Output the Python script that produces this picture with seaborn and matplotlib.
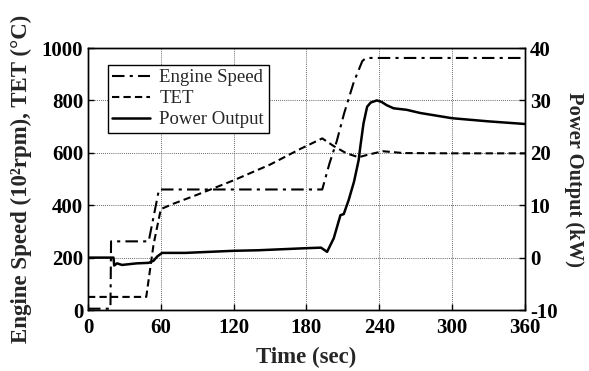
import matplotlib
matplotlib.use("Agg")
import matplotlib.pyplot as plt
import seaborn as sns
import pandas as pd

# Engine speed (10^2 rpm)
speed_t = [0, 18.5, 19, 50, 58.5, 193, 199, 205, 211, 219, 226, 229, 360]
speed_v = [5, 5, 262, 262, 460, 460, 560, 645, 750, 870, 950, 962, 962]

# TET (degC)
tet_t = [0, 48, 54, 60, 70, 90, 120, 150, 175, 193, 203, 213, 223, 230, 243, 260, 300, 360]
tet_v = [50, 50, 250, 385, 405, 440, 495, 555, 615, 655, 624, 598, 583, 592, 606, 599, 598, 598]

# Power output (kW)
pow_t = [0, 21, 21.6, 24, 28, 40, 50, 54, 57, 61, 80, 100, 120, 140, 160, 180, 192,
         197, 202.5, 208, 210.7, 214.8, 219.2, 223, 224.4, 227, 230, 233, 238,
         242, 246, 251.7, 262.7, 273.7, 300, 330, 360]
pow_v = [0, 0, -1.5, -1.1, -1.4, -1.1, -1.0, -0.6, 0.2, 0.9, 0.9, 1.1, 1.3, 1.4, 1.6, 1.8, 1.9,
         1.1, 3.7, 8.1, 8.3, 11.0, 14.5, 18.6, 21.2, 25.6, 28.8, 29.6, 30.0,
         29.7, 29.1, 28.5, 28.2, 27.6, 26.6, 26.0, 25.5]

sns.set_style("ticks")
plt.rcParams['font.family'] = ['Liberation Serif', 'DejaVu Serif']
plt.rcParams['xtick.direction'] = 'in'
plt.rcParams['ytick.direction'] = 'in'
plt.rcParams['axes.unicode_minus'] = False

fig = plt.figure(figsize=(5.89, 3.71), dpi=100)
ax = fig.add_axes([0.1494, 0.1644, 0.7418, 0.7062])
ax2 = ax.twinx()

sns.lineplot(x=speed_t, y=speed_v, ax=ax, color='black', lw=1.5, linestyle=(0, (6, 2.5, 1.5, 2.5)),
             label='Engine Speed', legend=False)
sns.lineplot(x=tet_t, y=tet_v, ax=ax, color='black', lw=1.5, linestyle=(0, (3.5, 2)),
             label='TET', legend=False)
sns.lineplot(x=pow_t, y=pow_v, ax=ax2, color='black', lw=1.8, linestyle='-',
             label='Power Output', legend=False)

ax.set_xlim(0, 360)
ax.set_ylim(0, 1000)
ax2.set_ylim(-10, 40)
ax.set_xticks(range(0, 361, 60))
ax.set_yticks(range(0, 1001, 200))
ax2.set_yticks(range(-10, 41, 10))

ax.grid(True, color='#333333', linestyle=(0, (1, 1.5)), linewidth=0.6)
for a in (ax, ax2):
    for s in a.spines.values():
        s.set_linewidth(1.0)
        s.set_color('black')
    a.tick_params(labelsize=15, width=1, length=4, colors='black')
    for lab in a.get_xticklabels() + a.get_yticklabels():
        lab.set_fontweight('bold')
ax.tick_params(axis='x', pad=6)

ax.set_xlabel('Time (sec)', fontsize=16.5, fontweight='bold', labelpad=6)
ax.set_ylabel('Engine Speed (10²rpm), TET (°C)', fontsize=16.5, fontweight='bold', labelpad=7)
ax2.set_ylabel('Power Output (kW)', fontsize=14.8, fontweight='bold', rotation=270, labelpad=19)

h1, l1 = ax.get_legend_handles_labels()
h2, l2 = ax2.get_legend_handles_labels()
leg = ax2.legend(h1 + h2, l1 + l2, loc='upper left', bbox_to_anchor=(0.045, 0.937),
                 fontsize=13.5, frameon=True, fancybox=False, framealpha=1,
                 edgecolor='black', handlelength=2.0, borderpad=0.25, labelspacing=0.2,
                 handletextpad=0.5, borderaxespad=0)
leg.get_frame().set_linewidth(1.0)

fig.savefig('out.png', dpi=100)
